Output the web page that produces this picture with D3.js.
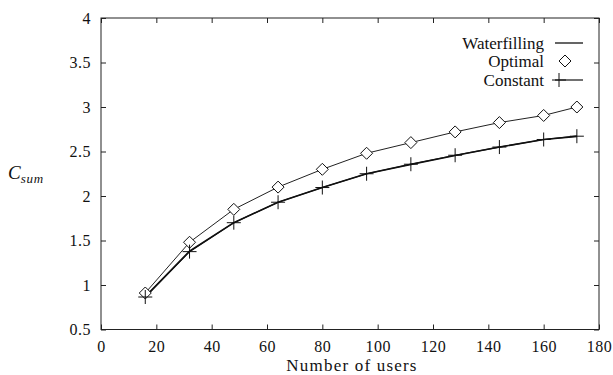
<!DOCTYPE html>
<html><head><meta charset="utf-8">
<script src="https://cdn.jsdelivr.net/npm/d3@7"></script>
<style>body{margin:0;background:#fff}svg{display:block}
svg text, svg tspan, svg g{font-family:"Liberation Serif","Times New Roman",serif !important}</style>
</head><body><svg id="c" width="613" height="375" font-family="Liberation Serif"></svg>
<script>
const users = [16,32,48,64,80,96,112,128,144,160,172];
const waterfilling = [0.87,1.38,1.70,1.93,2.095,2.25,2.355,2.455,2.55,2.635,2.67];
const optimal = [0.91,1.48,1.85,2.10,2.30,2.48,2.60,2.72,2.825,2.905,3.0];
const constant = [0.865,1.375,1.70,1.93,2.095,2.25,2.357,2.458,2.55,2.635,2.672];
const xTicks = [0,20,40,60,80,100,120,140,160,180];
const yTicks = [0.5,1,1.5,2,2.5,3,3.5,4];
const legendLabels = ["Waterfilling","Optimal","Constant"];

const FONT = "Liberation Serif";
const svg = d3.select("#c");
const L=101,R=599,T=18,B=329.5;
const x = d3.scaleLinear().domain([0,180]).range([L,R]);
const y = d3.scaleLinear().domain([0.5,4]).range([B,T]);

svg.append("rect").attr("x",L).attr("y",T).attr("width",R-L).attr("height",B-T)
  .attr("fill","none").attr("stroke","#222").attr("stroke-width",1);

const fmt = d=>String(d);
const tl=5;
const gx = svg.append("g").attr("transform",`translate(0,${B})`)
  .call(d3.axisBottom(x).tickValues(xTicks).tickFormat(fmt).tickSizeInner(-tl).tickSizeOuter(0).tickPadding(11));
const gxt = svg.append("g").attr("transform",`translate(0,${T})`)
  .call(d3.axisTop(x).tickValues(xTicks).tickFormat("").tickSizeInner(-tl).tickSizeOuter(0));
const gy = svg.append("g").attr("transform",`translate(${L},0)`)
  .call(d3.axisLeft(y).tickValues(yTicks).tickFormat(fmt).tickSizeInner(-tl).tickSizeOuter(0).tickPadding(10));
const gyr = svg.append("g").attr("transform",`translate(${R},0)`)
  .call(d3.axisRight(y).tickValues(yTicks).tickFormat("").tickSizeInner(-tl).tickSizeOuter(0));
[gx,gxt,gy,gyr].forEach(g=>{g.select(".domain").remove();g.attr("font-family",FONT).attr("font-size",16);
  g.selectAll("line").attr("stroke","#222");
  g.selectAll("text").attr("font-family",FONT).attr("font-size",16).attr("fill","#111").attr("letter-spacing",0.5);});

const line = d3.line().x((d,i)=>x(users[i])).y(d=>y(d));
svg.append("path").datum(optimal).attr("d",line).attr("fill","none").attr("stroke","#222").attr("stroke-width",1);
svg.append("path").datum(waterfilling).attr("d",line).attr("fill","none").attr("stroke","#111").attr("stroke-width",1.6);
svg.append("path").datum(constant).attr("d",line).attr("fill","none").attr("stroke","#111").attr("stroke-width",1.2);

const dia = (g,cx,cy)=>g.append("path").attr("d",`M${cx},${cy-6}L${cx+6},${cy}L${cx},${cy+6}L${cx-6},${cy}Z`)
  .attr("fill","#fff").attr("stroke","#111").attr("stroke-width",1);
const plus = (g,cx,cy)=>g.append("path").attr("d",`M${cx-7},${cy}H${cx+7}M${cx},${cy-7}V${cy+7}`)
  .attr("stroke","#111").attr("stroke-width",1);
optimal.forEach((v,i)=>dia(svg,x(users[i]),y(v)));
constant.forEach((v,i)=>plus(svg,x(users[i]),y(v)));

// legend
const lx=544, ly=[43,61,80];
legendLabels.forEach((t,i)=>svg.append("text").attr("x",lx).attr("y",ly[i]+5.5).attr("text-anchor","end")
  .attr("font-family",FONT).attr("font-size",17).attr("fill","#111").text(t));
svg.append("line").attr("x1",555).attr("x2",583).attr("y1",ly[0]).attr("y2",ly[0]).attr("stroke","#111").attr("stroke-width",1.3);
dia(svg,565,ly[1]);
svg.append("line").attr("x1",555).attr("x2",583).attr("y1",ly[2]).attr("y2",ly[2]).attr("stroke","#111").attr("stroke-width",1.2);
plus(svg,559,ly[2]);

// axis labels
svg.append("text").attr("x",352).attr("y",371).attr("text-anchor","middle")
  .attr("font-family",FONT).attr("font-size",17).attr("letter-spacing",1.2).attr("fill","#111").text("Number of users");
const yl = svg.append("text").attr("x",8).attr("y",179).attr("font-family",FONT).attr("font-size",19)
  .attr("font-style","italic").attr("fill","#111");
yl.append("tspan").text("C");
yl.append("tspan").attr("dy",4).attr("font-size",13).attr("letter-spacing",0.8).text("sum");
</script></body></html>
